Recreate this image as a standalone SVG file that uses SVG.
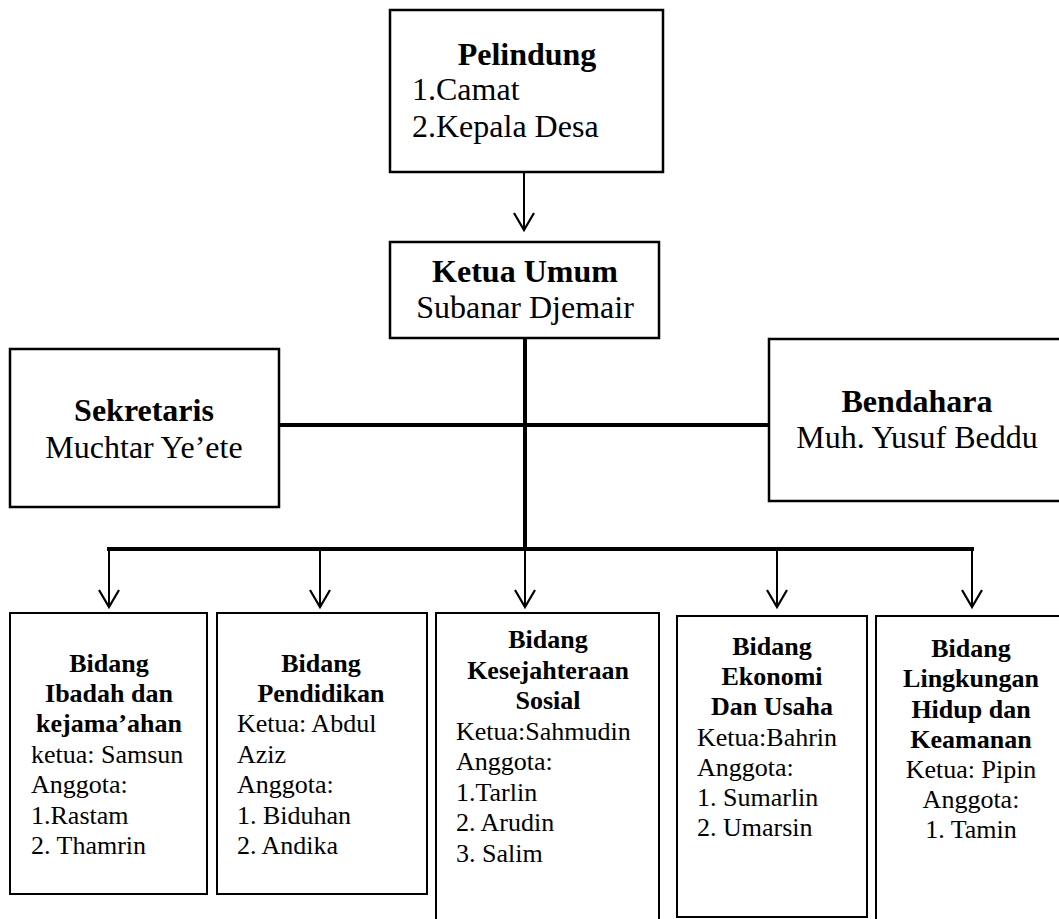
<svg xmlns="http://www.w3.org/2000/svg" width="1059" height="919" viewBox="0 0 1059 919">
<style>
.box{fill:#fff;stroke:#000;stroke-width:2.5}
.sbox{fill:#fff;stroke:#000;stroke-width:2}
text{fill:#000}
.big{font-size:32px}
.sm{font-size:26px}
.b{font-weight:bold}
.c{text-anchor:middle}
.thick{stroke:#000;stroke-width:4;fill:none}
.thin{stroke:#000;stroke-width:2;fill:none}
</style>
<defs>
<marker id="ah" markerUnits="userSpaceOnUse" orient="auto" refX="0" refY="0" markerWidth="30" markerHeight="30" overflow="visible">
<path d="M -17 -10 L 0 0 L -17 10" fill="none" stroke="#000" stroke-width="2.2"/>
</marker>
</defs>
<rect width="1059" height="919" fill="#fff"/>
<g id="connectors">
<line class="thin" x1="524" y1="172" x2="524" y2="230" marker-end="url(#ah)"/>
<line class="thick" x1="525" y1="338" x2="525" y2="549"/>
<line class="thick" x1="279" y1="425" x2="769" y2="425"/>
<line class="thick" x1="107" y1="549" x2="974" y2="549"/>
<line class="thin" x1="109" y1="549" x2="109" y2="607" marker-end="url(#ah)"/>
<line class="thin" x1="320" y1="549" x2="320" y2="607" marker-end="url(#ah)"/>
<line class="thin" x1="525" y1="549" x2="525" y2="607" marker-end="url(#ah)"/>
<line class="thin" x1="777" y1="549" x2="777" y2="607" marker-end="url(#ah)"/>
<line class="thin" x1="972" y1="549" x2="972" y2="607" marker-end="url(#ah)"/>
</g>
<g font-family="Liberation Serif, Times New Roman, DejaVu Serif, serif">
<g id="pelindung">
<rect class="box" x="390" y="10" width="273" height="162"/>
<text class="big b c" x="527" y="65">Pelindung</text>
<text class="big" x="412" y="100">1.Camat</text>
<text class="big" x="412" y="137">2.Kepala Desa</text>
</g>
<g id="ketua">
<rect class="box" x="390" y="242" width="269" height="96"/>
<text class="big b c" x="525" y="282">Ketua Umum</text>
<text class="big c" x="525" y="318">Subanar Djemair</text>
</g>
<g id="sekretaris">
<rect class="box" x="10" y="349" width="269" height="158"/>
<text class="big b c" x="144" y="421">Sekretaris</text>
<text class="big c" x="144" y="458">Muchtar Ye’ete</text>
</g>
<g id="bendahara">
<rect class="box" x="769" y="339" width="300" height="162"/>
<text class="big b c" x="917" y="412">Bendahara</text>
<text class="big c" x="917" y="448">Muh. Yusuf Beddu</text>
</g>
<g id="bidang1">
<rect class="sbox" x="10" y="613" width="197" height="281"/>
<text class="sm b c" x="109" y="672">Bidang</text>
<text class="sm b c" x="109" y="702">Ibadah dan</text>
<text class="sm b c" x="109" y="732">kejama’ahan</text>
<text class="sm" x="31" y="763">ketua: Samsun</text>
<text class="sm" x="31" y="793">Anggota:</text>
<text class="sm" x="31" y="824">1.Rastam</text>
<text class="sm" x="31" y="854">2. Thamrin</text>
</g>
<g id="bidang2">
<rect class="sbox" x="217" y="613" width="210" height="281"/>
<text class="sm b c" x="321" y="672">Bidang</text>
<text class="sm b c" x="321" y="702">Pendidikan</text>
<text class="sm" x="237" y="732">Ketua: Abdul</text>
<text class="sm" x="237" y="763">Aziz</text>
<text class="sm" x="237" y="793">Anggota:</text>
<text class="sm" x="237" y="824">1. Biduhan</text>
<text class="sm" x="237" y="854">2. Andika</text>
</g>
<g id="bidang3">
<rect class="sbox" x="436" y="613" width="223" height="310"/>
<text class="sm b c" x="548" y="648">Bidang</text>
<text class="sm b c" x="548" y="679">Kesejahteraan</text>
<text class="sm b c" x="548" y="709">Sosial</text>
<text class="sm" x="456" y="740">Ketua:Sahmudin</text>
<text class="sm" x="456" y="770">Anggota:</text>
<text class="sm" x="456" y="801">1.Tarlin</text>
<text class="sm" x="456" y="831">2. Arudin</text>
<text class="sm" x="456" y="862">3. Salim</text>
</g>
<g id="bidang4">
<rect class="sbox" x="677" y="616" width="190" height="301"/>
<text class="sm b c" x="772" y="655">Bidang</text>
<text class="sm b c" x="772" y="685">Ekonomi</text>
<text class="sm b c" x="772" y="715">Dan Usaha</text>
<text class="sm" x="697" y="746">Ketua:Bahrin</text>
<text class="sm" x="697" y="776">Anggota:</text>
<text class="sm" x="697" y="806">1. Sumarlin</text>
<text class="sm" x="697" y="836">2. Umarsin</text>
</g>
<g id="bidang5">
<rect class="sbox" x="876" y="616" width="200" height="310"/>
<text class="sm b c" x="971" y="657">Bidang</text>
<text class="sm b c" x="971" y="687">Lingkungan</text>
<text class="sm b c" x="971" y="718">Hidup dan</text>
<text class="sm b c" x="971" y="748">Keamanan</text>
<text class="sm c" x="971" y="778">Ketua: Pipin</text>
<text class="sm c" x="971" y="808">Anggota:</text>
<text class="sm c" x="971" y="838">1. Tamin</text>
</g>
</g>
</svg>
